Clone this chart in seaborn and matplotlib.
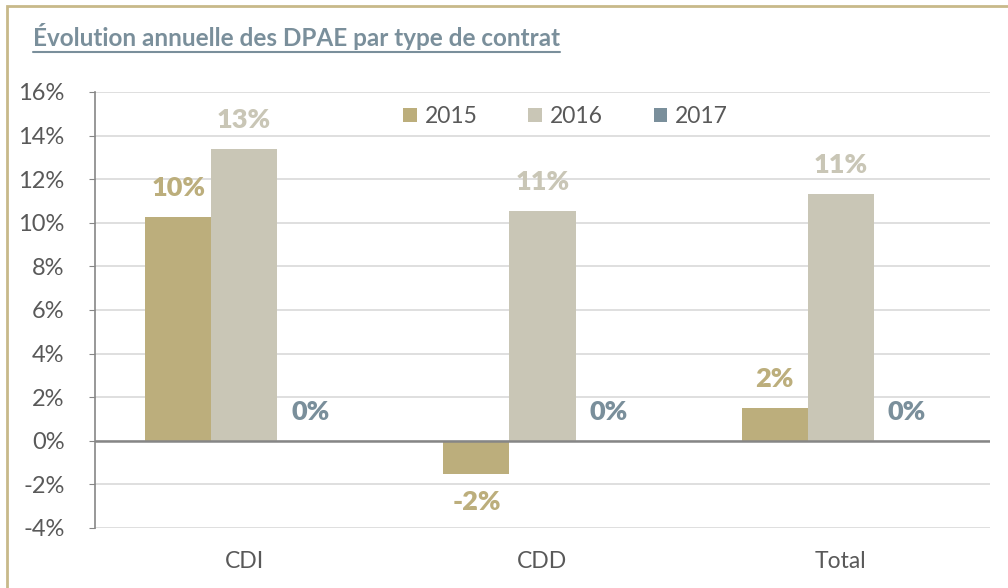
import pandas as pd
import matplotlib
matplotlib.use("Agg")
import matplotlib.pyplot as plt
import seaborn as sns
from matplotlib.patches import Rectangle
from matplotlib.lines import Line2D
from matplotlib.ticker import FuncFormatter, MultipleLocator

# Données (évolution annuelle en %)
contrats = ['CDI', 'CDD', 'Total']
annees = ['2015', '2016', '2017']
evol_2015 = [10.28, -1.51, 1.51]
evol_2016 = [13.39, 10.55, 11.33]
evol_2017 = [0.0, 0.0, 0.0]

couleurs = ['#BCAE7C', '#C9C6B6', '#7A8F9B']

df = pd.DataFrame({
    'Contrat': contrats * 3,
    'Annee': [a for a in annees for _ in contrats],
    'Evol': evol_2015 + evol_2016 + evol_2017,
})

sns.set_style('white')
plt.rcParams['font.family'] = ['Lato', 'DejaVu Sans']

fig = plt.figure(figsize=(10.08, 5.88), dpi=100)
ax = fig.add_axes([95/1008, 60/588, 895/1008, 436/588])

sns.barplot(data=df, x='Contrat', y='Evol', hue='Annee', palette=couleurs,
            width=0.664, gap=0, ax=ax, saturation=1, linewidth=0, edgecolor='none')

ax.set_xlim(-0.5, 2.5)
ax.set_ylim(-4, 16)
ax.yaxis.set_major_locator(MultipleLocator(2))
ax.yaxis.set_major_formatter(FuncFormatter(lambda v, p: f"{v:.0f}%"))
ax.grid(axis='y', color='#D9D9D9', lw=1.2)
ax.set_axisbelow(True)
ax.axhline(0, color='#868686', lw=1.8)
for s in ['top', 'right', 'bottom']:
    ax.spines[s].set_visible(False)
ax.spines['left'].set_color('#868686')
ax.spines['left'].set_linewidth(1.2)
ax.tick_params(axis='y', left=True, length=4, color='#868686', labelsize=17,
               labelcolor='#595959', pad=18)
ax.tick_params(axis='x', bottom=False, labelsize=16.5, labelcolor='#595959', pad=13)
ax.set_xlabel('')
ax.set_ylabel('')

# Etiquettes de données
for cont, col in zip(ax.containers, couleurs):
    ax.bar_label(cont, labels=[f"{v:.0f}%" for v in cont.datavalues], padding=12,
                 color=col, fontsize=19.5, fontweight='heavy')

handles, labels = ax.get_legend_handles_labels()
ax.legend(handles, labels, loc='upper center', bbox_to_anchor=(0.526, 1.015), ncol=3,
          frameon=False, fontsize=16.5, handlelength=0.6, handleheight=0.6,
          handletextpad=0.35, columnspacing=2.2, labelcolor='#595959')

# Titre souligné
titre = fig.text(33/1008, 1 - 37/588, "Évolution annuelle des DPAE par type de contrat",
                 fontsize=17.5, fontweight='bold', color='#7A8F9B', va='center', ha='left')
fig.canvas.draw()
bb = titre.get_window_extent().transformed(fig.transFigure.inverted())
fig.add_artist(Line2D([bb.x0, bb.x1], [bb.y0 - 0.002, bb.y0 - 0.002],
                      transform=fig.transFigure, color='#7A8F9B', lw=1.5))

# Cadre
fig.add_artist(Rectangle((7/1008, -0.1), 1.2, 1.1 - 6/588, transform=fig.transFigure,
                         fill=False, ec='#C8B98A', lw=2))

fig.savefig('out.png', dpi=100)
